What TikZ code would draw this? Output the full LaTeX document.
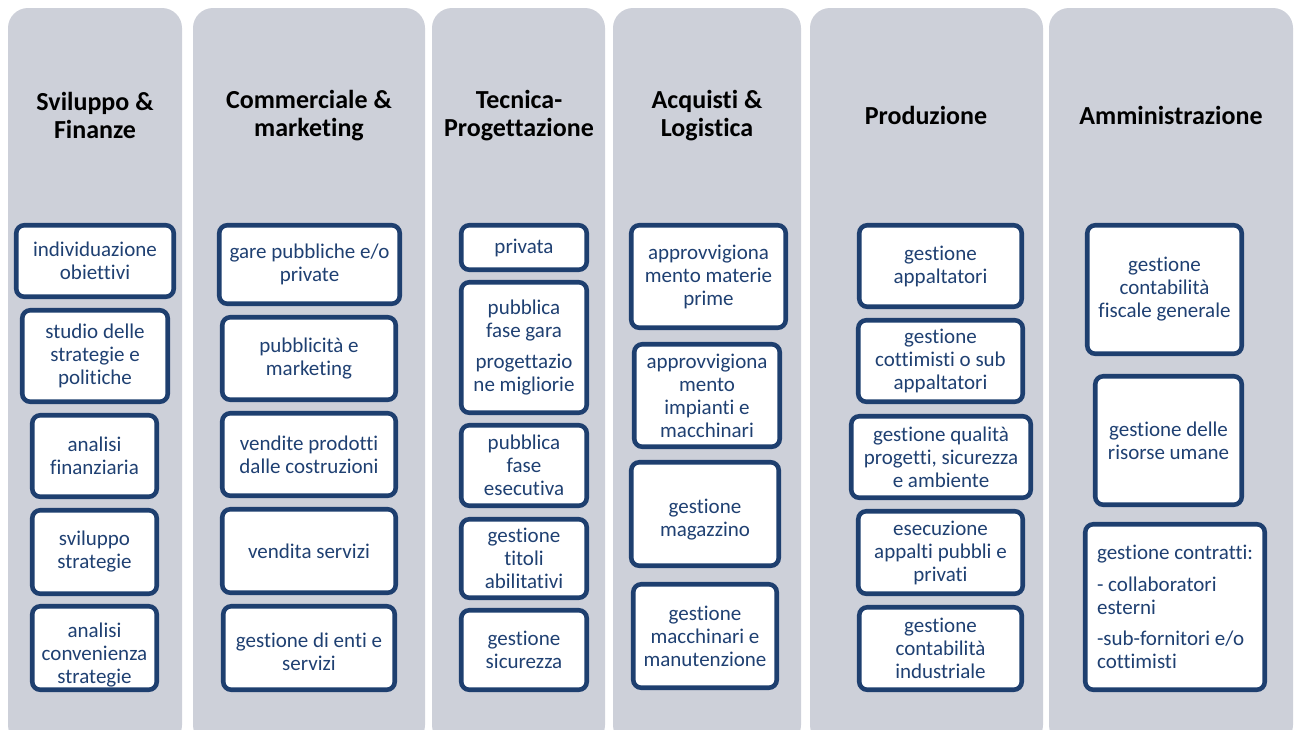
\documentclass[tikz,border=0pt]{standalone}
\usepackage{fontspec}
\setmainfont{Carlito}[Ligatures={NoCommon}]
\definecolor{colfill}{HTML}{CDD0D9}
\definecolor{bordc}{HTML}{1E3F6F}
\definecolor{txtc}{HTML}{1F4072}
\tikzset{
  column/.style={fill=colfill, draw=none, rounded corners=15pt},
  coltitle/.style={font=\fontsize{19.5pt}{21pt}\selectfont\bfseries, align=center, text=black},
  itemtext/.style={inner sep=0pt, align=center, text=txtc, font=\fontsize{15.75pt}{17.25pt}\selectfont},
  itembox/.style={itemtext, draw=bordc, line width=3.4pt, fill=white, rounded corners=6pt},
  itemleft/.style={itembox, align=left}
}
\newcommand\bx[7][]{%
  \pgfmathsetmacro\bw{(#5-#3-4.5)*0.75}%
  \pgfmathsetmacro\bh{(#6-#4-4.5)*0.75}%
  \node[itembox,#1, minimum width=\bw pt, minimum height=\bh pt] (#2) at ({(#3+#5)/2},{(#4+#6)/2}) {#7};}
% box whose text sits lower than its centre by #1
\newcommand\bxs[7]{%
  \pgfmathsetmacro\bw{(#5-#3-4.5)*0.75}%
  \pgfmathsetmacro\bh{(#6-#4-4.5)*0.75}%
  \node[itembox, minimum width=\bw pt, minimum height=\bh pt,
    label={[itemtext, yshift=-#1]center:{#7}}] (#2) at ({(#3+#5)/2},{(#4+#6)/2}) {};}
\newcommand\colbg[5]{%
  \pgfmathsetmacro\cw{(#4-#2)*0.75}%
  \pgfmathsetmacro\ch{(#5-#3)*0.75}%
  \node[column, minimum width=\cw pt, minimum height=\ch pt, inner sep=0pt] (#1) at ({(#2+#4)/2},{(#3+#5)/2}) {};}
\begin{document}
\begin{tikzpicture}[x=0.75pt, y=-0.75pt]
\useasboundingbox (0,0) rectangle (1300,729);
% columns
\colbg{c1}{8}{8}{182}{745}
\colbg{c2}{193}{8}{425}{745}
\colbg{c3}{432}{8}{605}{745}
\colbg{c4}{613}{8}{801}{745}
\colbg{c5}{810}{8}{1043}{745}
\colbg{c6}{1049}{8}{1293}{745}
% titles
\node[coltitle] (t1) at (95,115) {Sviluppo \&\\Finanze};
\node[coltitle] (t2) at (309,116) {Commerciale \&\\marketing};
\node[coltitle] (t3) at (519,116) {Tecnica-\\Progettazione};
\node[coltitle] (t4) at (707,116) {Acquisti \&\\Logistica};
\node[coltitle] (t5) at (926,115) {Produzione};
\node[coltitle] (t6) at (1171,115) {Amministrazione};
% column 1
\bx{a1}{14}{223}{176}{299}{individuazione\\obiettivi}
\bx{a2}{20}{308}{170}{404}{studio delle\\strategie e\\politiche}
\bx{a3}{30}{413}{159}{499}{analisi\\finanziaria}
\bx{a4}{30}{508}{159}{596}{sviluppo\\strategie}
\bxs{5pt}{a5}{30}{604}{159}{692}{analisi\\convenienza\\strategie}
% column 2
\bx{b1}{217}{223}{402}{306}{gare pubbliche e/o\\private}
\bx{b2}{220}{315}{398}{402}{pubblicità e\\marketing}
\bx{b3}{220}{411}{398}{498}{vendite prodotti\\dalle costruzioni}
\bx{b4}{220}{507}{398}{595}{vendita servizi}
\bxs{3pt}{b5}{221}{604}{397}{692}{gestione di enti e\\servizi}
% column 3
\bx{d1}{459}{223}{589}{272}{privata}
\bx{d2}{459}{280}{589}{415}{pubblica\\fase gara\\[6.5pt]progettazio\\ne migliorie}
\bx{d3}{459}{423}{589}{508}{pubblica\\fase\\esecutiva}
\bx{d4}{459}{517}{589}{600}{gestione\\titoli\\abilitativi}
\bx{d5}{459}{608}{589}{692}{gestione\\sicurezza}
% column 4
\bx{e1}{629}{223}{788}{330}{approvvigiona\\mento materie\\prime}
\bx{e2}{632}{342}{782}{449}{approvvigiona\\mento\\impianti e\\macchinari}
\bxs{4.5pt}{e3}{629}{460}{781}{568}{gestione\\magazzino}
\bx{e4}{631}{582}{779}{690}{gestione\\macchinari e\\manutenzione}
% column 5
\bx{f1}{857}{223}{1024}{309}{gestione\\appaltatori}
\bx{f2}{856}{318}{1025}{404}{gestione\\cottimisti o sub\\appaltatori}
\bx{f3}{849}{414}{1033}{500}{gestione qualità\\progetti, sicurezza\\e ambiente}
\bx{f4}{856}{509}{1025}{596}{esecuzione\\appalti pubbli e\\privati}
\bx{f5}{857}{605}{1024}{692}{gestione\\contabilità\\industriale}
% column 6
\bx{g1}{1085}{223}{1244}{356}{gestione\\contabilità\\fiscale generale}
\bx{g2}{1093}{374}{1244}{507}{gestione delle\\risorse umane}
\bx[itemleft]{g3}{1083}{522}{1267}{692}{gestione contratti:\\[6.5pt]- collaboratori\\esterni\\[6.5pt]-sub-fornitori e/o\\cottimisti}
\end{tikzpicture}
\end{document}
